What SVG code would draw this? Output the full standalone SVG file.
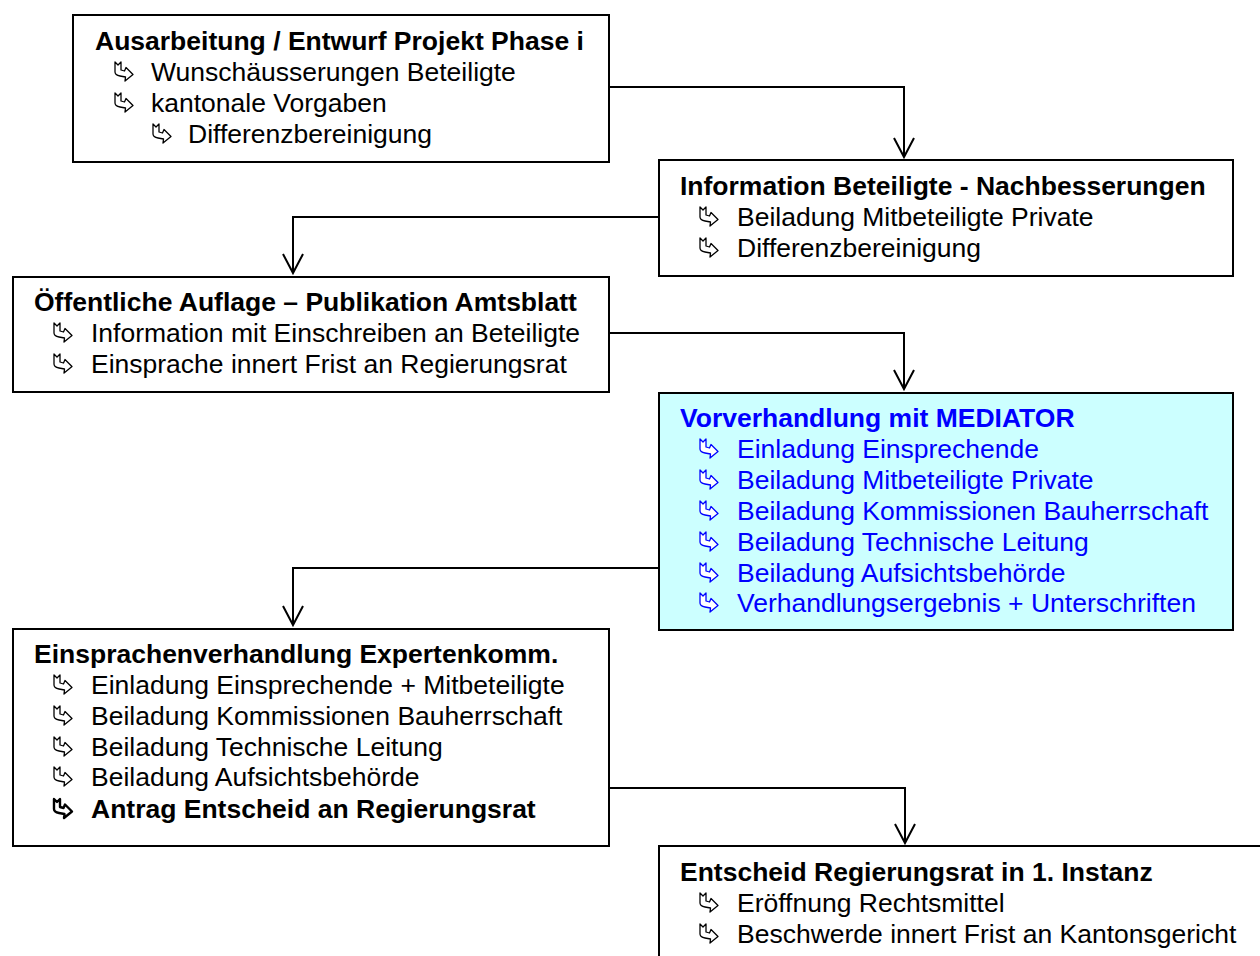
<svg xmlns="http://www.w3.org/2000/svg" width="1260" height="956" viewBox="0 0 1260 956">
  <style>
    .box { fill: #ffffff; stroke: #000000; stroke-width: 2; }
    .med { fill: #ccffff; }
    text { font-family: "Liberation Sans", Arial, sans-serif; font-size: 26.5px; fill: #000000; }
    .title { font-weight: bold; }
    .blue { fill: #0000ff; }
    .wire { fill: none; stroke: #000000; stroke-width: 2; }
    .bl { fill: #ffffff; stroke: #000000; stroke-width: 1.3; stroke-linejoin: round; }
    .bl-blue { stroke: #0000ff; }
    .bl-bold { stroke-width: 2.4; }
  </style>
  <defs>
    <!-- notched-tail hooked arrow bullet, about 20 x 21 -->
    <path id="hook" d="M1,1 L4,4 L7,1 L7,9 L10.5,10 L12,6.5 L19,13.5 L11,20 L11.5,16 L6,15 Q1,14 1,11 Z"/>
  </defs>

  <g id="connectors">
    <polyline class="wire" points="609,87 904,87 904,157" />
    <path class="wire" d="M894,138 L904,157 L914,138" />
    <polyline class="wire" points="659,217 293,217 293,273" />
    <path class="wire" d="M283,254 L293,273 L303,254" />
    <polyline class="wire" points="609,333 904,333 904,389" />
    <path class="wire" d="M894,370 L904,389 L914,370" />
    <polyline class="wire" points="659,568 293,568 293,625" />
    <path class="wire" d="M283,606 L293,625 L303,606" />
    <polyline class="wire" points="609,788 905,788 905,843" />
    <path class="wire" d="M895,824 L905,843 L915,824" />
  </g>

  <g id="node-ausarbeitung">
    <rect class="box" x="73" y="15" width="536" height="147"/>
    <text class="title" x="95" y="50">Ausarbeitung / Entwurf Projekt Phase i</text>
    <use href="#hook" class="bl" x="114" y="61"/>
    <text x="151" y="81">Wunschäusserungen Beteiligte</text>
    <use href="#hook" class="bl" x="114" y="92"/>
    <text x="151" y="112">kantonale Vorgaben</text>
    <use href="#hook" class="bl" x="152" y="123"/>
    <text x="188" y="143">Differenzbereinigung</text>
  </g>

  <g id="node-information">
    <rect class="box" x="659" y="160" width="574" height="116"/>
    <text class="title" x="680" y="195">Information Beteiligte - Nachbesserungen</text>
    <use href="#hook" class="bl" x="699" y="206"/>
    <text x="737" y="226">Beiladung Mitbeteiligte Private</text>
    <use href="#hook" class="bl" x="699" y="237"/>
    <text x="737" y="257">Differenzbereinigung</text>
  </g>

  <g id="node-auflage">
    <rect class="box" x="13" y="277" width="596" height="115"/>
    <text class="title" x="34" y="311">Öffentliche Auflage – Publikation Amtsblatt</text>
    <use href="#hook" class="bl" x="53" y="322"/>
    <text x="91" y="342">Information mit Einschreiben an Beteiligte</text>
    <use href="#hook" class="bl" x="53" y="353"/>
    <text x="91" y="373">Einsprache innert Frist an Regierungsrat</text>
  </g>

  <g id="node-mediator">
    <rect class="box med" x="659" y="393" width="574" height="237"/>
    <text class="title blue" x="680" y="427">Vorverhandlung mit MEDIATOR</text>
    <use href="#hook" class="bl bl-blue" x="699" y="438"/>
    <text class="blue" x="737" y="458">Einladung Einsprechende</text>
    <use href="#hook" class="bl bl-blue" x="699" y="469"/>
    <text class="blue" x="737" y="489">Beiladung Mitbeteiligte Private</text>
    <use href="#hook" class="bl bl-blue" x="699" y="500"/>
    <text class="blue" x="737" y="520">Beiladung Kommissionen Bauherrschaft</text>
    <use href="#hook" class="bl bl-blue" x="699" y="531"/>
    <text class="blue" x="737" y="551">Beiladung Technische Leitung</text>
    <use href="#hook" class="bl bl-blue" x="699" y="562"/>
    <text class="blue" x="737" y="582">Beiladung Aufsichtsbehörde</text>
    <use href="#hook" class="bl bl-blue" x="699" y="592"/>
    <text class="blue" x="737" y="612">Verhandlungsergebnis + Unterschriften</text>
  </g>

  <g id="node-expertenkomm">
    <rect class="box" x="13" y="629" width="596" height="217"/>
    <text class="title" x="34" y="663">Einsprachenverhandlung Expertenkomm.</text>
    <use href="#hook" class="bl" x="53" y="674"/>
    <text x="91" y="694">Einladung Einsprechende + Mitbeteiligte</text>
    <use href="#hook" class="bl" x="53" y="705"/>
    <text x="91" y="725">Beiladung Kommissionen Bauherrschaft</text>
    <use href="#hook" class="bl" x="53" y="736"/>
    <text x="91" y="756">Beiladung Technische Leitung</text>
    <use href="#hook" class="bl" x="53" y="766"/>
    <text x="91" y="786">Beiladung Aufsichtsbehörde</text>
    <use href="#hook" class="bl bl-bold" x="53" y="798"/>
    <text class="title" x="91" y="818">Antrag Entscheid an Regierungsrat</text>
  </g>

  <g id="node-entscheid">
    <rect class="box" x="659" y="846" width="604" height="120"/>
    <text class="title" x="680" y="881">Entscheid Regierungsrat in 1. Instanz</text>
    <use href="#hook" class="bl" x="699" y="892"/>
    <text x="737" y="912">Eröffnung Rechtsmittel</text>
    <use href="#hook" class="bl" x="699" y="923"/>
    <text x="737" y="943">Beschwerde innert Frist an Kantonsgericht</text>
  </g>
</svg>
